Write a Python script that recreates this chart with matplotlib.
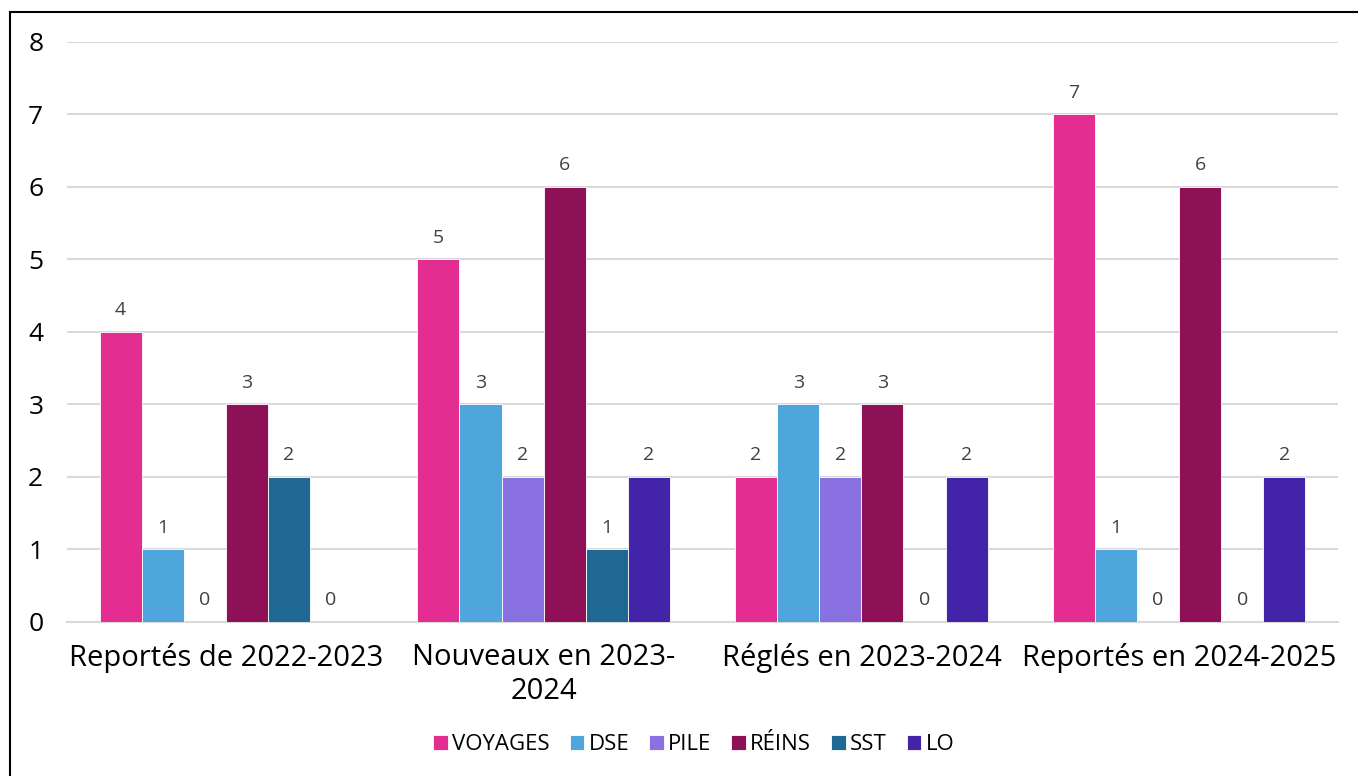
#!/usr/bin/env python3
"""
Dossiers par catégorie : reportés, nouveaux, réglés (graphique en barres groupées)
"""

import numpy as np
import matplotlib
matplotlib.use('Agg')
import matplotlib.pyplot as plt
from matplotlib.patches import Rectangle

plt.rcParams['font.family'] = ['Open Sans', 'DejaVu Sans']

CHART_FILE = 'out.png'

# catégories (axe x)
categories = ['Reportés de 2022-2023', 'Nouveaux en 2023-\n2024',
              'Réglés en 2023-2024', 'Reportés en 2024-2025']

# séries
series_names = ['VOYAGES', 'DSE', 'PILE', 'RÉINS', 'SST', 'LO']
voyages = [4, 5, 2, 7]
dse = [1, 3, 3, 1]
pile = [0, 2, 2, 0]
reins = [3, 6, 3, 6]
sst = [2, 1, 0, 0]
lo = [0, 2, 2, 2]

colors = ['#E32D91', '#4EA6DC', '#8971E1', '#8E1157', '#1F6893', '#4323A8']

y_ticks = [0, 1, 2, 3, 4, 5, 6, 7, 8]


def generate_chart():
    fig = plt.figure(figsize=(13.58, 7.76), dpi=100)
    ax = fig.add_axes([0.0493, 0.1985, 0.936, 0.7474])

    data = [voyages, dse, pile, reins, sst, lo]
    x = np.arange(len(categories))
    n = len(data)
    group_w = 0.795
    bw = group_w / n

    for i, (name, vals, c) in enumerate(zip(series_names, data, colors)):
        pos = x - group_w / 2 + bw * (i + 0.5)
        bars = ax.bar(pos, vals, width=bw, color=c, edgecolor='white',
                      linewidth=0.6, label=name, zorder=3)
        for b, v in zip(bars, vals):
            ax.annotate(f'{v}', xy=(b.get_x() + b.get_width() / 2, v),
                        xytext=(0, 9), textcoords='offset points',
                        ha='center', va='bottom', fontsize=14,
                        color='#404040')

    ax.set_xlim(-0.5, len(categories) - 0.5)
    ax.set_ylim(0, 8)
    ax.set_yticks(y_ticks)
    ax.set_xticks(x)
    ax.set_xticklabels(categories, fontsize=21, linespacing=1.25)
    ax.tick_params(axis='y', labelsize=19, length=0, pad=17)
    ax.tick_params(axis='x', length=0, pad=15)

    ax.grid(axis='y', color='#D9D9D9', linewidth=1.5, zorder=0)
    for s in ['top', 'right', 'left']:
        ax.spines[s].set_visible(False)
    ax.spines['bottom'].set_color('#D9D9D9')
    ax.spines['bottom'].set_linewidth(1.5)

    fig.legend(loc='center', bbox_to_anchor=(0.511, 0.04), ncol=6,
               frameon=False, fontsize=16, handlelength=0.65,
               handleheight=0.65, handletextpad=0.2, columnspacing=0.9)

    # cadre autour du graphique
    fig.patches.append(Rectangle((10 / 1358, -0.05), 1.2, 1 - 12 / 776 + 0.05,
                                 transform=fig.transFigure, fill=False,
                                 edgecolor='black', linewidth=1.5))

    fig.savefig(CHART_FILE, dpi=100)
    plt.close(fig)


if __name__ == '__main__':
    generate_chart()
